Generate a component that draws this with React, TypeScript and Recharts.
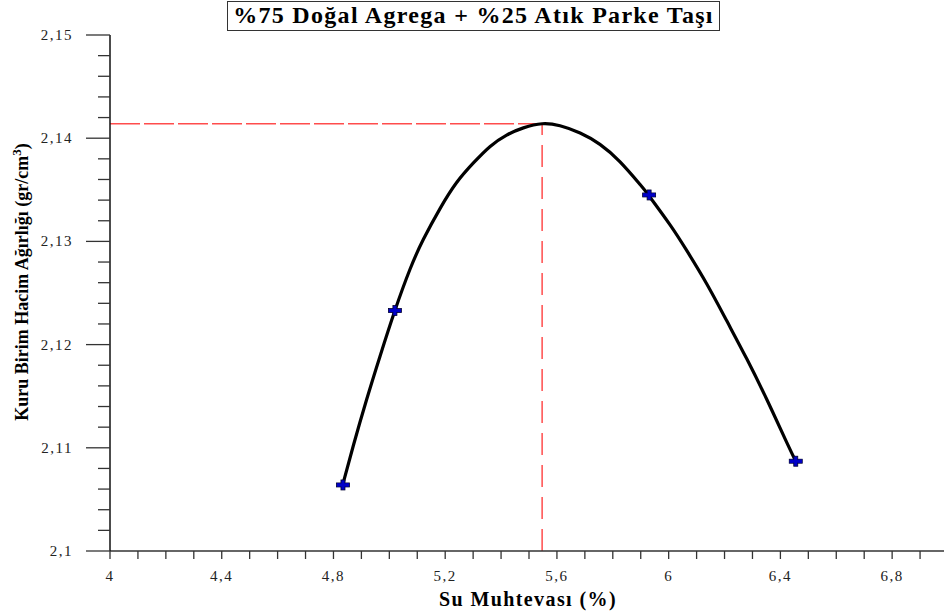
import React from 'react';
import { ComposedChart, Line, Scatter, XAxis, YAxis, ReferenceLine, Label } from 'recharts';

const measuredX = [4.834, 5.02, 5.93, 6.455];
const measuredY = [2.1064, 2.1233, 2.1345, 2.1087];

// Fitted curve
const curveX = [4.833, 4.871, 4.919, 4.967, 5.02, 5.074, 5.122, 5.182, 5.241, 5.301, 5.361, 5.42, 5.48, 5.547, 5.611, 5.683, 5.754, 5.826, 5.898, 5.93, 6.005, 6.065, 6.136, 6.208, 6.28, 6.351, 6.423, 6.455];
const curveY = [2.1064, 2.1102, 2.1147, 2.1189, 2.1233, 2.1273, 2.1302, 2.1332, 2.1357, 2.1376, 2.1392, 2.1403, 2.141, 2.1414, 2.1412, 2.1405, 2.1394, 2.1377, 2.1355, 2.1344, 2.1316, 2.1291, 2.1259, 2.1223, 2.1186, 2.1147, 2.1105, 2.1087];

// Optimum (peak of the curve)
const peakX = 5.547;
const peakY = 2.1414;

const xTicks = [4, 4.1, 4.2, 4.3, 4.4, 4.5, 4.6, 4.7, 4.8, 4.9, 5, 5.1, 5.2, 5.3, 5.4, 5.5, 5.6, 5.7, 5.8, 5.9, 6, 6.1, 6.2, 6.3, 6.4, 6.5, 6.6, 6.7, 6.8, 6.9, 7];
const xLabelTicks = [4, 4.4, 4.8, 5.2, 5.6, 6, 6.4, 6.8];
const yTicks = [2.1, 2.102, 2.104, 2.106, 2.108, 2.11, 2.112, 2.114, 2.116, 2.118, 2.12, 2.122, 2.124, 2.126, 2.128, 2.13, 2.132, 2.134, 2.136, 2.138, 2.14, 2.142, 2.144, 2.146, 2.148, 2.15];
const yLabelTicks = [2.1, 2.11, 2.12, 2.13, 2.14, 2.15];

const titleText = '%75 Doğal Agrega + %25 Atık Parke Taşı';
const xTitle = 'Su Muhtevası (%)';
const yTitle = 'Kuru Birim Hacim Ağırlığı (gr/cm';

const curveData = curveX.map((x, i) => ({ x, y: curveY[i] }));
const pointData = measuredX.map((x, i) => ({ x, y: measuredY[i] }));

const SERIF = '"Liberation Serif", "Times New Roman", serif';
const fmt = (v: number) => String(v).replace('.', ',');
const isIn = (arr: number[], v: number) => arr.some((t) => Math.abs(t - v) < 1e-6);

const XTick = (props: any) => {
  const { x, y, payload } = props;
  const v = payload.value;
  return (
    <g>
      <line x1={x} x2={x} y1={y} y2={y + 8} stroke="#333" strokeWidth={1.3} />
      {isIn(xLabelTicks, v) && (
        <text x={x} y={y + 30} textAnchor="middle" fontFamily={SERIF} fontSize={15} letterSpacing={1.5} fill="#222">
          {fmt(v)}
        </text>
      )}
    </g>
  );
};

const YTick = (props: any) => {
  const { x, y, payload } = props;
  const v = payload.value;
  const major = isIn(yLabelTicks, v);
  return (
    <g>
      <line x1={x - (major ? 24 : 12)} x2={x} y1={y} y2={y} stroke="#333" strokeWidth={1.3} />
      {major && (
        <text x={x - 37} y={y + 5} textAnchor="end" fontFamily={SERIF} fontSize={15} letterSpacing={1.5} fill="#222">
          {fmt(v)}
        </text>
      )}
    </g>
  );
};

const PlusShape = (props: any) => {
  const { cx, cy } = props;
  if (cx == null || cy == null) return null;
  return (
    <g>
      <rect x={cx - 6.5} y={cy - 2} width={13} height={4} fill="#0000c8" stroke="#000030" strokeWidth={0.8} />
      <rect x={cx - 2} y={cy - 5} width={4} height={10} fill="#0000c8" stroke="#000030" strokeWidth={0.8} />
      <rect x={cx - 6} y={cy - 1.5} width={12} height={3} fill="#0000c8" />
    </g>
  );
};

const XTitle = (props: any) => {
  const vb = props.viewBox || {};
  const cx = vb.x + vb.width / 2 - 1;
  return (
    <text x={cx} y={606} textAnchor="middle" fontFamily={SERIF} fontWeight="bold" fontSize={20} letterSpacing={1.4} fill="#000">
      {xTitle}
    </text>
  );
};

const YTitle = (props: any) => {
  const vb = props.viewBox || {};
  const cy = vb.y + vb.height / 2 - 11;
  const cx = 28;
  return (
    <text x={cx} y={cy} transform={`rotate(-90, ${cx}, ${cy})`} textAnchor="middle" fontFamily={SERIF} fontWeight="bold" fontSize={18} fill="#000">
      {yTitle}
      <tspan dy={-7} fontSize={13}>3</tspan>
      <tspan dy={7}>)</tspan>
    </text>
  );
};

export default function App() {
  return (
    <div style={{ position: 'absolute', left: 0, top: 0, width: 944, height: 612, overflow: 'hidden', background: '#fff' }}>
      <div
        style={{
          position: 'absolute',
          left: 227,
          top: 1,
          width: 493,
          height: 30,
          boxSizing: 'border-box',
          border: '1.5px solid #333',
          fontFamily: SERIF,
          fontWeight: 'bold',
          fontSize: 24,
          letterSpacing: '1.3px',
          lineHeight: '27px',
          textAlign: 'center',
          whiteSpace: 'nowrap',
          zIndex: 2,
        }}
      >
        {titleText}
      </div>
      <ComposedChart width={960} height={612} margin={{ top: 35, right: 12, bottom: 31, left: 0 }}>
        <XAxis
          type="number"
          dataKey="x"
          domain={[4, 7]}
          ticks={xTicks}
          interval={0}
          tickSize={0}
          tickMargin={0}
          tickLine={false}
          tick={<XTick />}
          axisLine={{ stroke: '#333', strokeWidth: 1.5 }}
          height={30}
          allowDataOverflow
        >
          <Label content={<XTitle />} />
        </XAxis>
        <YAxis
          type="number"
          dataKey="y"
          domain={[2.1, 2.15]}
          ticks={yTicks}
          interval={0}
          tickSize={0}
          tickMargin={0}
          tickLine={false}
          tick={<YTick />}
          axisLine={{ stroke: '#111', strokeWidth: 1.5 }}
          width={110}
          allowDataOverflow
        >
          <Label content={<YTitle />} />
        </YAxis>
        <ReferenceLine
          segment={[{ x: 4, y: peakY }, { x: peakX, y: peakY }]}
          stroke="#ff4d4d"
          strokeWidth={1.5}
          strokeDasharray="30 4"
        />
        <ReferenceLine
          segment={[{ x: peakX, y: 2.1 }, { x: peakX, y: peakY }]}
          stroke="#ff4d4d"
          strokeWidth={1.5}
          strokeDasharray="22 10"
        />
        <Line
          data={curveData}
          dataKey="y"
          type="natural"
          stroke="#000"
          strokeWidth={3.2}
          dot={false}
          activeDot={false}
          isAnimationActive={false}
        />
        <Scatter data={pointData} dataKey="y" shape={<PlusShape />} isAnimationActive={false} />
      </ComposedChart>
    </div>
  );
}
